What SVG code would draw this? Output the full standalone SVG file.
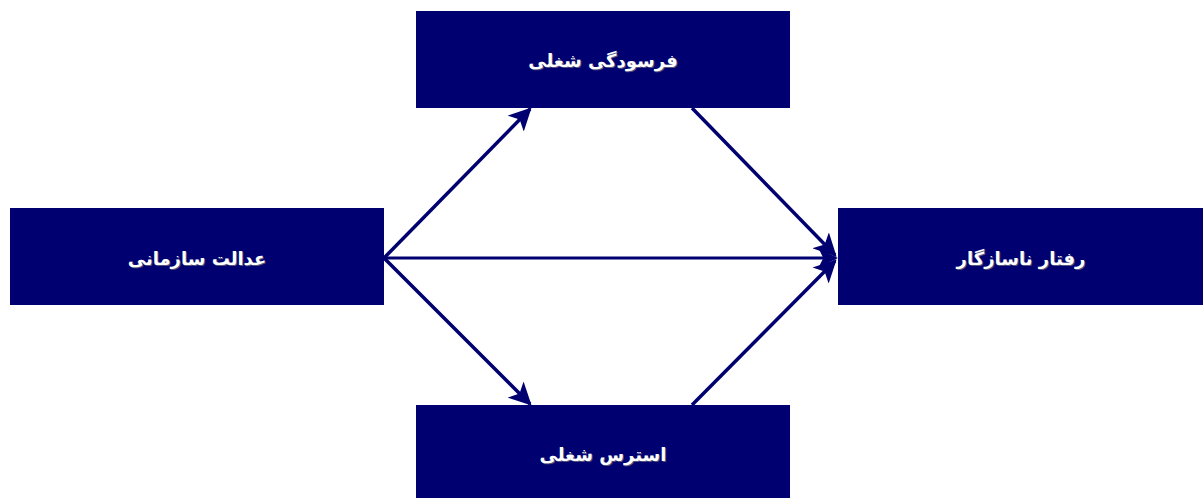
<svg xmlns="http://www.w3.org/2000/svg" width="1203" height="498" viewBox="0 0 1203 498">
<style>
.box{fill:#000070}
.lbl{fill:#ffffff;font-family:"DejaVu Sans",sans-serif;font-weight:bold;font-size:18px;text-anchor:middle;dominant-baseline:central}
.sh{fill:#55557a;font-family:"DejaVu Sans",sans-serif;font-weight:bold;font-size:18px;text-anchor:middle;dominant-baseline:central}
.con{stroke:#000070;stroke-width:3.5;fill:none;marker-end:url(#ah)}
</style>
<defs>
<marker id="ah" viewBox="0 0 10 10" refX="9" refY="5" markerWidth="6.5" markerHeight="6.5" markerUnits="strokeWidth" orient="auto">
<path d="M0,0 L10,5 L0,10 L2.5,5 z" fill="#000070"/>
</marker>
</defs>
<rect width="1203" height="498" fill="#ffffff"/>
<g id="connectors">
<line class="con" x1="384" y1="258" x2="530" y2="109"/>
<line class="con" x1="384" y1="258" x2="530" y2="404"/>
<line class="con" x1="384" y1="258" x2="836" y2="258" style="stroke-width:3"/>
<line class="con" x1="692" y1="108" x2="835" y2="255"/>
<line class="con" x1="692" y1="405" x2="835" y2="261"/>
</g>
<g id="node-top">
<rect class="box" x="416" y="11" width="374" height="97"/>
<text class="sh" x="604" y="61">فرسودگی شغلی</text>
<text class="lbl" x="603" y="60">فرسودگی شغلی</text>
</g>
<g id="node-left">
<rect class="box" x="10" y="208" width="374" height="97"/>
<text class="sh" x="198" y="259">عدالت سازمانی</text>
<text class="lbl" x="197" y="258">عدالت سازمانی</text>
</g>
<g id="node-right">
<rect class="box" x="838" y="208" width="365" height="97"/>
<text class="sh" x="1022" y="259">رفتار ناسازگار</text>
<text class="lbl" x="1021" y="258">رفتار ناسازگار</text>
</g>
<g id="node-bottom">
<rect class="box" x="416" y="405" width="374" height="93"/>
<text class="sh" x="604" y="455">استرس شغلی</text>
<text class="lbl" x="603" y="454">استرس شغلی</text>
</g>
</svg>
